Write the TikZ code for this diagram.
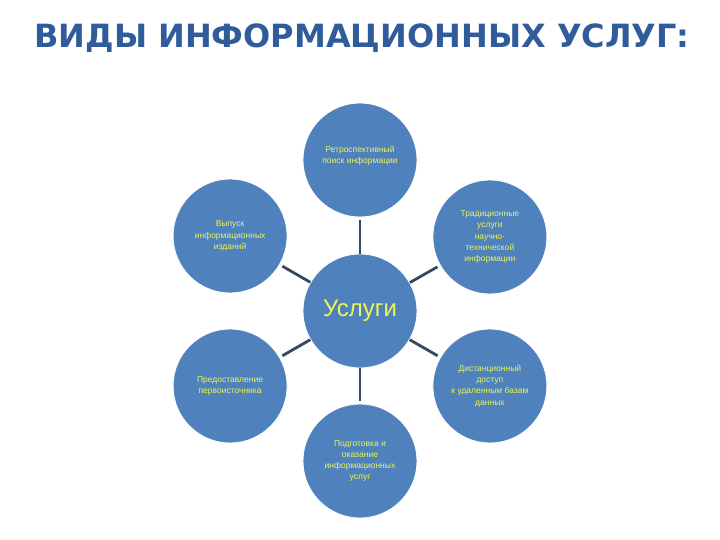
\documentclass[tikz,border=0pt]{standalone}
\usepackage{fontspec}
\setmainfont{Liberation Sans}
\newfontfamily\headfont{DejaVu Sans}
\definecolor{ringblue}{RGB}{79,129,189}
\definecolor{ringtext}{RGB}{236,246,84}
\definecolor{linkgray}{RGB}{55,72,95}
\definecolor{headblue}{RGB}{48,92,156}

\begin{document}
\begin{tikzpicture}[x=1pt, y=1pt, font={\fontsize{8.5}{11.2}\selectfont},
every node/.style={circle, draw=white, line width=0.8pt, fill=ringblue,
minimum size=114pt, inner sep=0pt, align=center, text=ringtext},
head/.style={rectangle, draw=none, fill=none, minimum size=0pt, text=headblue,
font={\headfont\bfseries\fontsize{32}{32}\selectfont}},
]
\useasboundingbox (0,0) rectangle (720,540);

\node[head] (title) at (362,502) {ВИДЫ ИНФОРМАЦИОННЫХ УСЛУГ:};

\path
(360,229) node[font={\fontsize{24}{24}\selectfont}] (u0) {Услуги}
(u0.center) ++(90:151) node[text depth=11pt] (u1) {Ретроспективный\\поиск информации}
(u0.center) ++(30:150) node[yshift=-1pt] (u2) {Традиционные\\услуги\\научно-\\технической\\информации}
(u0.center) ++(-30:150) node (u3) {Дистанционный\\доступ\\к удаленным базам\\данных}
(u0.center) ++(-90:150) node (u4) {Подготовка и\\оказание\\информационных\\услуг}
(u0.center) ++(-150:150) node (u5) {Предоставление\\первоисточника}
(u0.center) ++(150:150) node (u6) {Выпуск\\информационных\\изданий}
;

% links to the hub
\begin{scope}[draw=linkgray, line width=2.8pt, shorten >=3pt]
\draw (u0) -- (u1) ;
\draw (u0) -- (u2) ;
\draw (u0) -- (u3) ;
\draw (u0) -- (u4) ;
\draw (u0) -- (u5) ;
\draw (u0) -- (u6) ;
\end{scope}

\end{tikzpicture}
\end{document}
